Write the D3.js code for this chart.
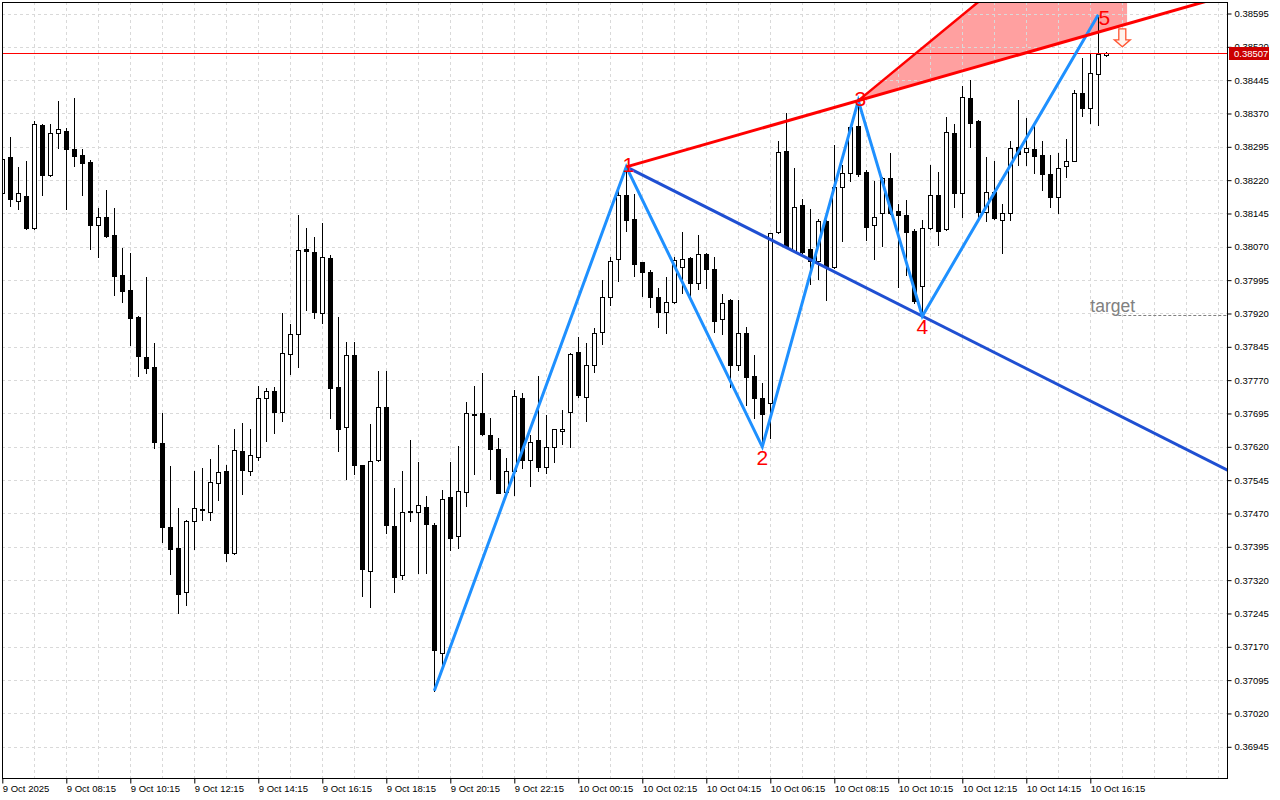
<!DOCTYPE html>
<html><head><meta charset="utf-8">
<script src="https://cdn.jsdelivr.net/npm/d3@7"></script>
<style>html,body{margin:0;padding:0;background:#fff;} svg{display:block;}</style>
</head><body>
<svg id="chart" width="1280" height="800"></svg>
<script>
// ---- DATA (M15 candles) ----
const open = [0.38192,0.38271,0.38174,0.38185,0.38112,0.38344,0.38232,0.38327,0.38330,0.38290,
0.38276,0.38261,0.38120,0.38137,0.38096,0.38006,0.37972,0.37912,0.37822,0.37799,
0.37629,0.37440,0.37392,0.37293,0.37453,0.37481,0.37474,0.37539,0.37566,0.37382,
0.37611,0.37566,0.37598,0.37729,0.37746,0.37699,0.37828,0.37873,0.38065,0.38058,
0.37922,0.38044,0.37754,0.37665,0.37826,0.37578,0.37341,0.37590,0.37710,0.37442,
0.37332,0.37476,0.37473,0.37484,0.37445,0.37157,0.37506,0.37419,0.37518,0.37691,
0.37695,0.37647,0.37616,0.37519,0.37566,0.37729,0.37590,0.37635,0.37575,0.37620,
0.37655,0.37699,0.37833,0.37731,0.37803,0.37878,0.37957,0.38042,0.38186,0.38133,
0.38035,0.38014,0.37957,0.37923,0.37945,0.38024,0.38044,0.37988,0.38053,0.38019,
0.37907,0.37950,0.37803,0.37876,0.37779,0.37729,0.37718,0.38103,0.38286,0.38061,
0.38164,0.38065,0.38037,0.38128,0.38025,0.38205,0.38237,0.38342,0.38238,0.38119,
0.38146,0.38224,0.38151,0.38142,0.38106,0.37982,0.38112,0.38187,0.38110,0.38326,
0.38190,0.38404,0.38353,0.38149,0.38194,0.38130,0.38146,0.38295,0.38283,0.38290,
0.38277,0.38234,0.38182,0.38252,0.38264,0.38416,0.38382,0.38459,0.38502];
const high = [0.38288,0.38316,0.38249,0.38263,0.38352,0.38346,0.38346,0.38398,0.38337,0.38405,
0.38290,0.38265,0.38157,0.38197,0.38157,0.38067,0.38056,0.37914,0.38003,0.37854,
0.37697,0.37576,0.37483,0.37456,0.37565,0.37573,0.37593,0.37623,0.37578,0.37660,
0.37674,0.37660,0.37757,0.37752,0.37755,0.37921,0.37896,0.38142,0.38112,0.38092,
0.38123,0.38051,0.37912,0.37855,0.37855,0.37580,0.37671,0.37791,0.37791,0.37527,
0.37566,0.37635,0.37586,0.37509,0.37448,0.37523,0.37586,0.37621,0.37720,0.37756,
0.37785,0.37684,0.37639,0.37594,0.37747,0.37740,0.37647,0.37780,0.37691,0.37660,
0.37702,0.37831,0.37868,0.37853,0.37887,0.37995,0.38047,0.38198,0.38250,0.38188,
0.38036,0.38018,0.37977,0.38002,0.38048,0.38103,0.38046,0.38097,0.38055,0.38048,
0.37964,0.37952,0.37950,0.37890,0.37827,0.37764,0.38102,0.38308,0.38370,0.38247,
0.38177,0.38155,0.38132,0.38131,0.38299,0.38254,0.38341,0.38399,0.38243,0.38217,
0.38226,0.38281,0.38166,0.38175,0.38110,0.38130,0.38254,0.38238,0.38363,0.38346,
0.38432,0.38445,0.38355,0.38273,0.38262,0.38166,0.38307,0.38400,0.38359,0.38348,
0.38308,0.38277,0.38281,0.38312,0.38423,0.38494,0.38504,0.38592,0.38509];
const low = [0.38180,0.38162,0.38154,0.38110,0.38110,0.38187,0.38230,0.38293,0.38154,0.38251,
0.38187,0.38065,0.38047,0.38091,0.37962,0.37946,0.37850,0.37780,0.37786,0.37617,
0.37406,0.37333,0.37247,0.37264,0.37390,0.37455,0.37455,0.37500,0.37364,0.37379,
0.37514,0.37557,0.37590,0.37632,0.37652,0.37679,0.37783,0.37800,0.37928,0.37909,
0.37899,0.37684,0.37611,0.37548,0.37559,0.37284,0.37260,0.37588,0.37426,0.37294,
0.37322,0.37454,0.37336,0.37337,0.37071,0.37125,0.37388,0.37393,0.37486,0.37558,
0.37646,0.37547,0.37515,0.37511,0.37511,0.37573,0.37531,0.37566,0.37561,0.37586,
0.37626,0.37620,0.37733,0.37679,0.37789,0.37852,0.37940,0.37994,0.38105,0.38004,
0.37959,0.37935,0.37889,0.37876,0.37943,0.37966,0.37958,0.37974,0.37977,0.37879,
0.37874,0.37755,0.37793,0.37714,0.37684,0.37620,0.37639,0.38101,0.38068,0.38059,
0.38057,0.37986,0.37998,0.37950,0.38023,0.38084,0.38219,0.38229,0.38085,0.38042,
0.38072,0.38144,0.37979,0.38007,0.37943,0.37914,0.38110,0.38074,0.38108,0.38160,
0.38137,0.38294,0.38132,0.38127,0.38132,0.38057,0.38130,0.38254,0.38254,0.38235,
0.38198,0.38159,0.38147,0.38228,0.38262,0.38365,0.38348,0.38344,0.38500];
const close = [0.38268,0.38178,0.38192,0.38112,0.38346,0.38232,0.38327,0.38334,0.38289,0.38275,
0.38259,0.38119,0.38136,0.38094,0.38005,0.37970,0.37910,0.37825,0.37797,0.37631,
0.37439,0.37390,0.37288,0.37454,0.37482,0.37477,0.37540,0.37563,0.37381,0.37613,
0.37568,0.37601,0.37729,0.37746,0.37699,0.37831,0.37873,0.38062,0.38061,0.37924,
0.38048,0.37753,0.37660,0.37826,0.37578,0.37345,0.37587,0.37710,0.37443,0.37326,
0.37474,0.37473,0.37489,0.37446,0.37163,0.37503,0.37415,0.37521,0.37697,0.37693,
0.37648,0.37614,0.37517,0.37566,0.37735,0.37590,0.37630,0.37574,0.37620,0.37659,
0.37661,0.37829,0.37736,0.37803,0.37875,0.37957,0.38039,0.38186,0.38131,0.38031,
0.38013,0.37957,0.37923,0.37945,0.38040,0.38043,0.37988,0.38053,0.38019,0.37904,
0.37943,0.37803,0.37876,0.37776,0.37729,0.37693,0.38100,0.38283,0.38070,0.38159,
0.38059,0.38037,0.38128,0.38024,0.38205,0.38235,0.38339,0.38234,0.38115,0.38138,
0.38224,0.38146,0.38142,0.38104,0.37947,0.38112,0.38187,0.38106,0.38329,0.38190,
0.38408,0.38349,0.38149,0.38194,0.38134,0.38146,0.38292,0.38279,0.38292,0.38275,
0.38233,0.38183,0.38247,0.38263,0.38416,0.38382,0.38461,0.38503,0.38507];

const timeTickIndex = [0,8,16,24,32,40,48,56,64,72,80,88,96,104,112,120,128,136];
const timeTickLabels = ["9 Oct 2025","9 Oct 08:15","9 Oct 10:15","9 Oct 12:15","9 Oct 14:15",
  "9 Oct 16:15","9 Oct 18:15","9 Oct 20:15","9 Oct 22:15","10 Oct 00:15","10 Oct 02:15",
  "10 Oct 04:15","10 Oct 06:15","10 Oct 08:15","10 Oct 10:15","10 Oct 12:15","10 Oct 14:15","10 Oct 16:15"];
const priceTicks = [0.36945,0.37020,0.37095,0.37170,0.37245,0.37320,0.37395,0.37470,0.37545,
  0.37620,0.37695,0.37770,0.37845,0.37920,0.37995,0.38070,0.38145,0.38220,0.38295,0.38370,
  0.38445,0.38520,0.38595];
const lastPrice = 0.38507;

// wave (zigzag) points
const waveLabels = ["0","1","2","3","4","5"];
const waveIndex  = [54, 78, 95, 107, 115, 137];
const wavePrice  = [0.37071, 0.38250, 0.37620, 0.38399, 0.37914, 0.38592];
// steep red line from point 3, second anchor
const steepIndex = [107, 122];
const steepPrice = [0.38399, 0.38621];
const fillEndIndex = 140.6;
const targetPrice = 0.37916;
const targetStartIndex = 139.5;
const targetLabel = "target";
const arrowIndex = 140;
const arrowPrice = 0.38520;

// ---- LAYOUT ----
const L = 2, T = 2, R = 1228, B = 778;
const svg = d3.select("#chart");
const x = d3.scaleLinear().domain([0, 138]).range([2.3, 1106.3]);
const y = d3.scaleLinear().domain([0.36945, 0.38595]).range([746.8, 13.5]);
const kRight = x.invert(R);

svg.append("defs").append("clipPath").attr("id","clip")
  .append("rect").attr("x",L).attr("y",T).attr("width",R-L).attr("height",B-T);
const plot = svg.append("g").attr("clip-path","url(#clip)");

const lineAt = (i0,p0,i1,p1) => k => p0 + (p1-p0)/(i1-i0)*(k-i0);
const redLine = lineAt(waveIndex[1], wavePrice[1], waveIndex[3], wavePrice[3]);
const blueLine = lineAt(waveIndex[1], wavePrice[1], waveIndex[4], wavePrice[4]);
const steepLine = lineAt(steepIndex[0], steepPrice[0], steepIndex[1], steepPrice[1]);

// shaded triangle
const topK = 130;
const fillPts = [
  [steepIndex[0], steepPrice[0]],
  [topK, steepLine(topK)],
  [fillEndIndex, steepLine(topK)],
  [fillEndIndex, redLine(fillEndIndex)]
];
plot.append("path")
  .attr("d", d3.line().x(d=>x(d[0])).y(d=>y(d[1]))(fillPts) + "Z")
  .attr("fill", "#ffa0a0");

// grid
const gridColor = "#d9d9d9";
plot.append("g").selectAll("line").data(priceTicks).join("line")
  .attr("x1", L).attr("x2", R)
  .attr("y1", d=>Math.round(y(d))+0.5).attr("y2", d=>Math.round(y(d))+0.5)
  .attr("stroke", gridColor).attr("stroke-dasharray","3,3");
plot.append("g").selectAll("line").data(d3.range(4, 154, 4)).join("line")
  .attr("y1", T).attr("y2", B)
  .attr("x1", d=>Math.round(x(d))+0.5).attr("x2", d=>Math.round(x(d))+0.5)
  .attr("stroke", gridColor).attr("stroke-dasharray","3,3");

// candles
const candles = d3.range(open.length).map(i => ({i, o:open[i], h:high[i], l:low[i], c:close[i]}));
const cg = plot.append("g");
candles.forEach(d => {
  const cx = Math.round(x(d.i));
  cg.append("line")
    .attr("x1", cx+0.5).attr("x2", cx+0.5)
    .attr("y1", Math.round(y(d.h))).attr("y2", Math.round(y(d.l))+1)
    .attr("stroke", "#000").attr("stroke-width", 1);
  const yt = Math.round(y(Math.max(d.o, d.c)));
  const yb = Math.round(y(Math.min(d.o, d.c)));
  if (d.c > d.o) {
    cg.append("rect").attr("x", cx-2+0.5).attr("y", yt+0.5)
      .attr("width", 4).attr("height", Math.max(1, yb-yt))
      .attr("fill", "#fff").attr("stroke", "#000").attr("stroke-width", 1);
  } else {
    cg.append("rect").attr("x", cx-2).attr("y", yt)
      .attr("width", 5).attr("height", Math.max(2, yb-yt+1))
      .attr("fill", "#000");
  }
});

// current price line (solid red band, 1px)
const ly = Math.round(y(lastPrice));
plot.append("rect").attr("x", L).attr("y", ly).attr("width", R-L).attr("height", 1)
  .attr("fill", "#ff0000");

// dark blue line 1-4 extended
plot.append("line")
  .attr("x1", x(waveIndex[1])).attr("y1", y(wavePrice[1]))
  .attr("x2", x(kRight)).attr("y2", y(blueLine(kRight)))
  .attr("stroke", "#1f4fd2").attr("stroke-width", 3);

// zigzag
plot.append("path")
  .attr("d", d3.line().x((d,i)=>x(waveIndex[i])).y((d,i)=>y(wavePrice[i]))(waveIndex))
  .attr("fill","none").attr("stroke","#1e90ff").attr("stroke-width",3)
  .attr("stroke-linejoin","miter");

// red line 1-3 extended
plot.append("line")
  .attr("x1", x(waveIndex[1])).attr("y1", y(wavePrice[1]))
  .attr("x2", x(kRight)).attr("y2", y(redLine(kRight)))
  .attr("stroke", "#ff0000").attr("stroke-width", 3);
// steep red line
plot.append("line")
  .attr("x1", x(steepIndex[0])).attr("y1", y(steepPrice[0]))
  .attr("x2", x(topK)).attr("y2", y(steepLine(topK)))
  .attr("stroke", "#ff0000").attr("stroke-width", 2.5);

// target line + label
plot.append("line")
  .attr("x1", x(targetStartIndex)).attr("x2", R)
  .attr("y1", Math.round(y(targetPrice))+0.5).attr("y2", Math.round(y(targetPrice))+0.5)
  .attr("stroke", "#808080").attr("stroke-dasharray","3,2");
plot.append("text").text(targetLabel)
  .attr("x", x(targetStartIndex) - 28).attr("y", y(targetPrice) - 3)
  .attr("font-family","Liberation Sans, Arial, sans-serif").attr("font-size",17.5)
  .attr("fill","#808080");

// arrow
const ax = x(arrowIndex), ay = y(arrowPrice);
plot.append("path")
  .attr("d", `M${ax},${ay} L${ax-8},${ay-7} L${ax-3.5},${ay-7} L${ax-3.5},${ay-18} L${ax+3.5},${ay-18} L${ax+3.5},${ay-7} L${ax+8},${ay-7} Z`)
  .attr("fill","#fff3ec").attr("stroke","#ff5533").attr("stroke-width",1.3);

// wave labels
const labelOffsets = [null,[2,-2],[0,11],[2,-2],[0,10],[6,3]];
waveLabels.forEach((t,i) => {
  if (i === 0) return;
  plot.append("text").text(t)
    .attr("x", x(waveIndex[i]) + labelOffsets[i][0])
    .attr("y", y(wavePrice[i]) + labelOffsets[i][1])
    .attr("text-anchor","middle").attr("dominant-baseline","central")
    .attr("font-family","Liberation Sans, Arial, sans-serif").attr("font-size",21)
    .attr("fill","#ff0000");
});

// frame
svg.append("rect").attr("x", L+0.5).attr("y", T+0.5)
  .attr("width", R-L-1).attr("height", B-T)
  .attr("fill","none").attr("stroke","#000").attr("stroke-width",1);

// axes
const fontFam = "Liberation Sans, Arial, sans-serif";
const yAxis = svg.append("g").attr("transform", `translate(${R-0.5},0)`)
  .call(d3.axisRight(y).tickValues(priceTicks).tickSize(4).tickFormat(d3.format(".5f")));
yAxis.select(".domain").remove();
yAxis.selectAll("text").attr("font-family", fontFam).attr("font-size", 9.5).attr("fill","#000").attr("x", 7);
yAxis.selectAll("line").attr("stroke","#000");

const xAxis = svg.append("g").attr("transform", `translate(0,${B+0.5})`)
  .call(d3.axisBottom(x).tickValues(timeTickIndex).tickSize(5).tickFormat((d,i)=>timeTickLabels[i]));
xAxis.select(".domain").remove();
xAxis.selectAll("text").attr("font-family", fontFam).attr("font-size", 9.5).attr("fill","#000")
  .attr("text-anchor","start").attr("x", 0).attr("y", 7);
xAxis.selectAll(".tick line").attr("stroke","#000");

// last price tag (covers the 0.38520 label as in the reference)
const tag = svg.append("g");
tag.append("rect").attr("x", R+1).attr("y", ly-6).attr("width", 40).attr("height", 13).attr("fill", "#cc0000");
tag.append("text").text(d3.format(".5f")(lastPrice))
  .attr("x", R+6).attr("y", ly+0.5).attr("dominant-baseline","central")
  .attr("font-family", fontFam).attr("font-size", 9.5).attr("fill","#fff");
</script>
</body></html>
